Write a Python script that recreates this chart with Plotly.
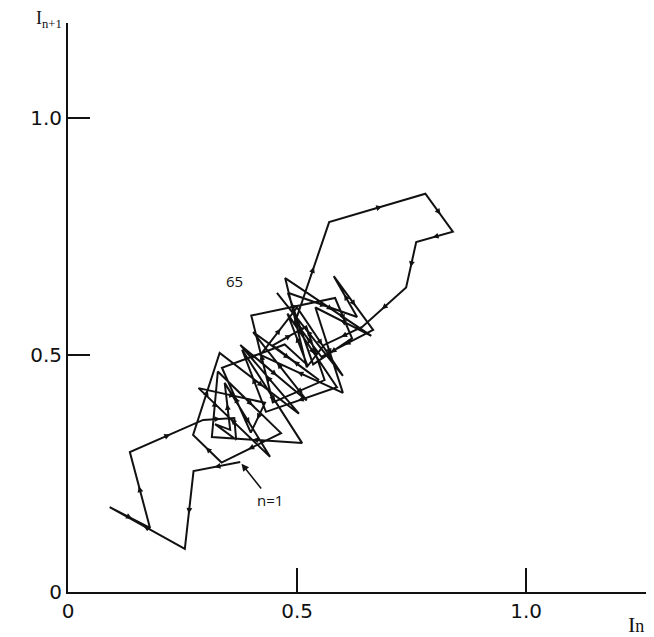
import plotly.graph_objects as go

# intensity sequence I_1 ... I_66 ; the map plots (I_n, I_n+1)
intensity = [0.376, 0.274, 0.255, 0.091, 0.179, 0.135, 0.295, 0.363, 0.367, 0.321,
             0.354, 0.342, 0.441, 0.285, 0.430, 0.399, 0.336, 0.473, 0.522, 0.479,
             0.587, 0.432, 0.380, 0.511, 0.314, 0.327, 0.465, 0.335, 0.273, 0.331,
             0.504, 0.376, 0.521, 0.404, 0.548, 0.447, 0.520, 0.560, 0.447, 0.400,
             0.583, 0.620, 0.535, 0.480, 0.631, 0.580, 0.666, 0.553, 0.496, 0.570,
             0.780, 0.840, 0.760, 0.738, 0.642, 0.559, 0.521, 0.474, 0.662, 0.540,
             0.600, 0.420, 0.500, 0.600, 0.456, 0.631]

tick_vals = [0, 0.5, 1.0]
tick_text = ['0', '0.5', '1.0']

x = intensity[:-1]
y = intensity[1:]

fig = go.Figure()
fig.add_trace(go.Scatter(x=x, y=y, mode='lines',
                         line=dict(color='#111', width=2), hoverinfo='skip'))

# small direction arrows on each step
for i in range(len(x) - 1):
    x0, y0, x1, y1 = x[i], y[i], x[i + 1], y[i + 1]
    fig.add_annotation(x=x0 + 0.55 * (x1 - x0), y=y0 + 0.55 * (y1 - y0),
                       ax=x0 + 0.45 * (x1 - x0), ay=y0 + 0.45 * (y1 - y0),
                       xref='x', yref='y', axref='x', ayref='y', text='',
                       showarrow=True, arrowhead=2, arrowsize=0.9,
                       arrowwidth=1.3, arrowcolor='#111')

fig.add_annotation(x=x[0], y=y[0], ax=30, ay=38, text='n=1', showarrow=True,
                   arrowhead=2, arrowsize=1, arrowwidth=1.5, arrowcolor='#111',
                   font=dict(size=15, color='#111'), standoff=2)
fig.add_annotation(x=x[-1], y=y[-1], text='65', showarrow=False,
                   xshift=-42, yshift=12, font=dict(size=15, color='#111'))

fig.add_annotation(xref='paper', yref='paper', x=1.0, y=0, xanchor='right',
                   yanchor='top', xshift=-8, yshift=-18,
                   text='I<span style="font-size:18px">n</span>',
                   showarrow=False, font=dict(size=22, color='#111',
                                             family='Liberation Serif'))
fig.add_annotation(xref='paper', yref='paper', x=0, y=1, xanchor='right',
                   yanchor='bottom', xshift=-4, yshift=-10,
                   text='I<sub>n+1</sub>', showarrow=False,
                   font=dict(size=18, color='#111', family='Liberation Serif'))

axis_style = dict(showline=True, linecolor='#111', linewidth=2, showgrid=False,
                  zeroline=False, ticks='inside', tickwidth=2, tickcolor='#111',
                  tickvals=tick_vals, ticktext=tick_text, automargin=False,
                  tickfont=dict(size=20, color='#111', family='DejaVu Sans'))

fig.update_layout(
    width=646, height=629,
    margin=dict(l=60, r=0, t=15, b=45),
    plot_bgcolor='white', paper_bgcolor='white',
    showlegend=False,
    xaxis=dict(range=[0, 1.279], ticklen=24, **axis_style),
    yaxis=dict(range=[0, 1.20], ticklen=22, **axis_style),
)

fig.write_html("out.html")
